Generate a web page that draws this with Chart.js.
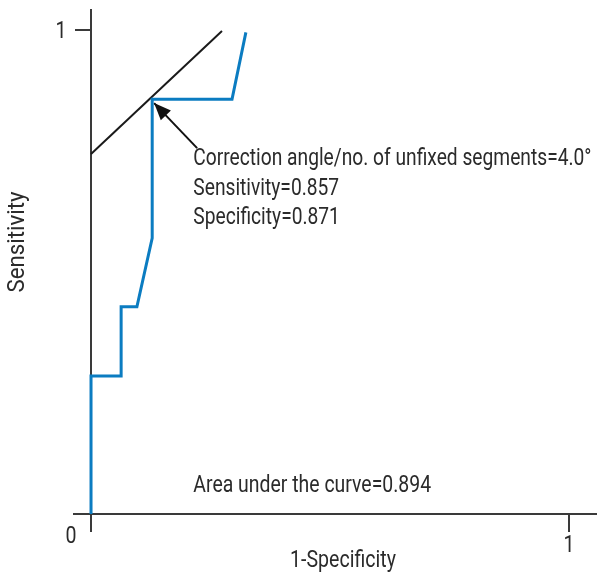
<!DOCTYPE html>
<html>
<head>
<meta charset="utf-8">
<script src="https://cdn.jsdelivr.net/npm/chart.js@4.4.1/dist/chart.umd.min.js"></script>
<style>
  html, body { margin: 0; padding: 0; background: #fff; }
</style>
</head>
<body>
<canvas id="rocChart" width="597" height="574"></canvas>
<script>
// ROC curve (1-specificity, sensitivity)
const rocX = [0, 0, 0.063, 0.063, 0.096, 0.128, 0.128, 0.295, 0.324];
const rocY = [0, 0.285, 0.285, 0.428, 0.428, 0.570, 0.857, 0.857, 0.995];
// tangent line at the cut-off
const tangentX = [0, 0.274];
const tangentY = [0.744, 0.998];
// arrow from the note to the cut-off point
const arrowX = [0.222, 0.132];
const arrowY = [0.756, 0.849];
const xTicks = [0, 1];
const yTicks = [1];
const xTitle = '1-Specificity';
const yTitle = 'Sensitivity';
const noteLines = ['Correction angle/no. of unfixed segments=4.0°', 'Sensitivity=0.857', 'Specificity=0.871'];
const aucText = 'Area under the curve=0.894';

const FONT = "Roboto, 'Liberation Sans', sans-serif";
const AXIS = '#3a3a3a';
const TEXT = '#2b2b2b';

const pts = (xs, ys) => xs.map((v, i) => ({x: v, y: ys[i]}));

// reference font is a condensed face, so squeeze Roboto sideways
function narrowText(ctx, t, x, y, align, sq) {
  ctx.save();
  ctx.translate(x, y);
  ctx.scale(sq || 0.85, 1);
  ctx.textAlign = align;
  ctx.fillText(t, 0, 0);
  ctx.restore();
}

// text, tick labels, arrow head
const notes = {
  id: 'notes',
  afterDraw(chart) {
    const {ctx, scales: {x, y}} = chart;
    ctx.save();
    ctx.fillStyle = TEXT;
    ctx.font = '23px ' + FONT;
    ctx.textBaseline = 'alphabetic';

    const tx = x.getPixelForValue(0.214);
    noteLines.forEach((t, i) => narrowText(ctx, t, tx, 165 + i * 29.5, 'left', 0.835));
    narrowText(ctx, aucText, tx, 492, 'left', 0.845);

    // tick labels
    narrowText(ctx, '0', x.getPixelForValue(0) - 20, 543, 'center');
    yTicks.forEach(v => narrowText(ctx, String(v), x.getPixelForValue(0) - 30, y.getPixelForValue(v) + 8.5, 'center'));
    xTicks.filter(v => v > 0).forEach(v => narrowText(ctx, String(v), x.getPixelForValue(v), 552, 'center'));

    // axis titles
    narrowText(ctx, xTitle, 343, 567, 'center');
    ctx.save();
    ctx.translate(24, 242);
    ctx.rotate(-Math.PI / 2);
    narrowText(ctx, yTitle, 0, 0, 'center', 0.97);
    ctx.restore();

    // arrow head
    const x0 = x.getPixelForValue(arrowX[0]), y0 = y.getPixelForValue(arrowY[0]);
    const x1 = x.getPixelForValue(arrowX[1]), y1 = y.getPixelForValue(arrowY[1]);
    const a = Math.atan2(y1 - y0, x1 - x0);
    const len = 17, half = 7;
    ctx.fillStyle = '#111';
    ctx.beginPath();
    ctx.moveTo(x1, y1);
    ctx.lineTo(x1 - len * Math.cos(a) + half * Math.sin(a), y1 - len * Math.sin(a) - half * Math.cos(a));
    ctx.lineTo(x1 - len * Math.cos(a) - half * Math.sin(a), y1 - len * Math.sin(a) + half * Math.cos(a));
    ctx.closePath();
    ctx.fill();
    ctx.restore();
  }
};

new Chart(document.getElementById('rocChart'), {
  type: 'scatter',
  data: {
    datasets: [
      {
        data: pts(rocX, rocY),
        showLine: true,
        borderColor: '#0b7cc1',
        borderWidth: 3,
        pointRadius: 0
      },
      {
        data: pts(tangentX, tangentY),
        showLine: true,
        borderColor: '#1a1a1a',
        borderWidth: 2,
        pointRadius: 0
      },
      {
        data: pts(arrowX, arrowY),
        showLine: true,
        borderColor: '#111',
        borderWidth: 2,
        pointRadius: 0
      }
    ]
  },
  options: {
    responsive: false,
    animation: false,
    devicePixelRatio: 1,
    layout: { padding: { left: 74, right: 0, top: 10, bottom: 0 } },
    plugins: { legend: { display: false }, tooltip: { enabled: false } },
    scales: {
      x: {
        type: 'linear',
        position: 'bottom',
        min: -0.0356,
        max: 1.0586,
        afterBuildTicks: s => { s.ticks = xTicks.map(v => ({value: v})); },
        afterFit: s => { s.height = 60; s.paddingLeft = 0; s.paddingRight = 0; },
        ticks: { padding: 0, maxRotation: 0, callback: () => '' },
        grid: { drawOnChartArea: false, tickLength: 18, color: AXIS, lineWidth: 2 },
        border: { color: AXIS, width: 2 }
      },
      y: {
        type: 'linear',
        position: { x: 0 },
        min: 0,
        max: 1.0413,
        afterBuildTicks: s => { s.ticks = yTicks.map(v => ({value: v})); },
        afterFit: s => { s.width = 0; s.paddingTop = 0; s.paddingBottom = 0; },
        ticks: { callback: () => '' },
        grid: { drawOnChartArea: false, tickLength: 15, color: AXIS, lineWidth: 2 },
        border: { color: AXIS, width: 2 }
      }
    }
  },
  plugins: [notes]
});
</script>
</body>
</html>
